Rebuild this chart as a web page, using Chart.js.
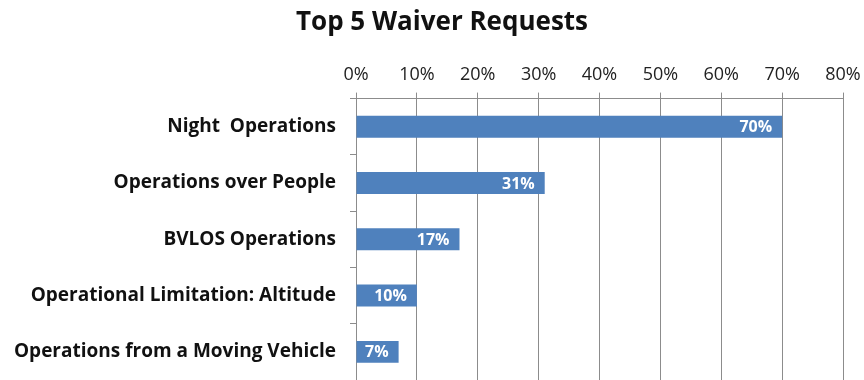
<!DOCTYPE html>
<html lang="en">
<head>
  <meta charset="utf-8">
  <title>Top 5 Waiver Requests</title>
  <script src="https://cdn.jsdelivr.net/npm/chart.js@4/dist/chart.umd.min.js"></script>
  <style>
    html, body { margin: 0; padding: 0; background: #fff; }
    #wrap { width: 864px; height: 380px; }
  </style>
</head>
<body>
<div id="wrap"><canvas id="waivers"></canvas></div>

<script type="text/javascript">
// waiver categories and their share of requests (%)
var categories = [
  'Night  Operations',
  'Operations over People',
  'BVLOS Operations',
  'Operational Limitation: Altitude',
  'Operations from a Moving Vehicle'
];
var shares = [70, 31, 17, 10, 7];
var tickValues = [0, 10, 20, 30, 40, 50, 60, 70, 80];
var chartTitle = 'Top 5 Waiver Requests';

var fontFamily = '"Open Sans", Lato, sans-serif';

// title sits a little right of centre, over the plot
var titleText = {
  id: 'titleText',
  afterDraw: function(chart) {
    var ctx = chart.ctx;
    ctx.save();
    ctx.font = 'bold 26px ' + fontFamily;
    ctx.fillStyle = '#111';
    ctx.textAlign = 'center';
    ctx.textBaseline = 'middle';
    ctx.fillText(chartTitle, 442, 23);
    ctx.restore();
  }
};

// white value text drawn at the inner end of each bar
var barValues = {
  id: 'barValues',
  afterDatasetsDraw: function(chart) {
    var ctx = chart.ctx;
    var meta = chart.getDatasetMeta(0);
    ctx.save();
    ctx.font = 'bold 16px ' + fontFamily;
    ctx.fillStyle = '#ffffff';
    ctx.textAlign = 'right';
    ctx.textBaseline = 'middle';
    meta.data.forEach(function(bar, i) {
      ctx.fillText(shares[i] + '%', bar.x - 10, bar.y + 1);
    });
    ctx.restore();
  }
};

new Chart(document.getElementById('waivers').getContext('2d'), {
  type: 'bar',
  data: {
    labels: categories,
    datasets: [{
      data: shares,
      backgroundColor: '#4f81bd',
      borderWidth: 0,
      categoryPercentage: 1,
      barPercentage: 0.39
    }]
  },
  options: {
    indexAxis: 'y',
    responsive: true,
    maintainAspectRatio: false,
    animation: false,
    layout: { padding: { left: 0, right: 21, top: 57, bottom: -5 } },
    plugins: {
      legend: { display: false },
      tooltip: { enabled: false },
      title: { display: false }
    },
    scales: {
      x: {
        position: 'top',
        min: 0,
        max: 80,
        afterBuildTicks: function(scale) {
          scale.ticks = tickValues.map(function(v) { return { value: v }; });
        },
        afterFit: function(scale) {
          scale.paddingLeft = 0;
          scale.paddingRight = 0;
        },
        ticks: {
          color: '#222',
          padding: 7,
          font: { family: fontFamily, size: 18 },
          callback: function(v) { return v + '%'; }
        },
        grid: { color: '#8c8c8c', lineWidth: 1, tickLength: 6 },
        border: { color: '#8c8c8c' }
      },
      y: {
        afterFit: function(scale) {
          scale.width = 356;
          // category labels sit inside their bands, no extra room above/below
          scale.paddingTop = 0;
          scale.paddingBottom = 0;
        },
        ticks: {
          color: '#111',
          padding: 14,
          font: { family: fontFamily, size: 19, weight: 'bold' }
        },
        grid: { drawOnChartArea: false, color: '#8c8c8c', tickLength: 6 },
        border: { color: '#8c8c8c' }
      }
    }
  },
  plugins: [barValues, titleText]
});
</script>
</body>
</html>
